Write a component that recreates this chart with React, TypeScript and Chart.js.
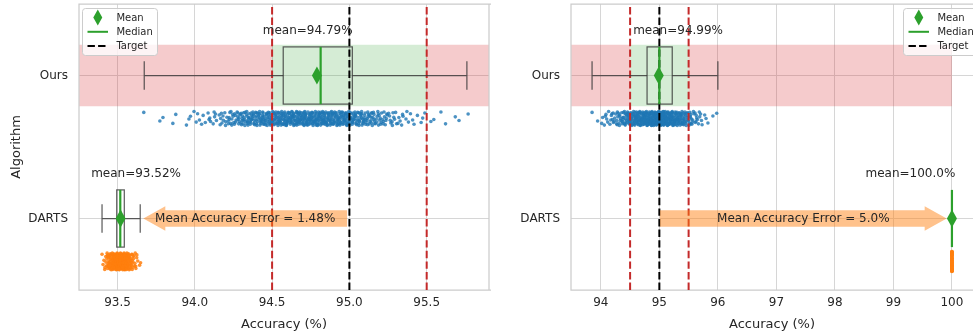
import { useEffect, useRef } from "react";
import { Chart, registerables } from "chart.js";

Chart.register(...registerables);

// ---------------- data ----------------
const categories = ["Ours", "DARTS"];
const targetAccuracy = 95.0;
const toleranceBand = [94.5, 95.5];

// left panel
const leftXTicks = [93.5, 94.0, 94.5, 95.0, 95.5];
const leftXTickLabels = ["93.5", "94.0", "94.5", "95.0", "95.5"];
const leftXRange = [93.251, 95.903];
const leftRedBandX = [93.251, 95.903];
// [whiskerLow, q1, median, q3, whiskerHigh]
const leftOursBox = [93.673, 94.572, 94.814, 95.019, 95.76];
const leftDartsBox = [93.4, 93.495, 93.518, 93.544, 93.647];
const leftMeans = [94.79, 93.52];
const leftMeanLabelX = [94.73, 93.62];
const leftArrow = [94.985, 93.667]; // from (target side) -> to (DARTS side)

const leftOursValues = [
  93.67, 93.78, 93.79, 93.86, 93.87, 93.95, 93.97, 93.99, 94.01, 94.03, 94.05, 94.07, 94.09,
  94.10, 94.12, 94.14, 94.16, 94.18, 94.20, 94.22, 94.24, 94.26, 94.28,
  94.30, 94.32, 94.34, 94.36, 94.38, 94.40, 94.42, 94.44, 94.46, 94.48,
  94.50, 94.52, 94.54, 94.56, 94.58, 94.60, 94.62, 94.64, 94.66, 94.68,
  94.70, 94.72, 94.74, 94.76, 94.78, 94.80, 94.82, 94.84, 94.86, 94.88,
  94.90, 94.92, 94.94, 94.96, 94.98, 95.00, 95.02, 95.04, 95.06, 95.08,
  95.10, 95.12, 95.14, 95.16, 95.18, 95.20, 95.22, 95.24, 95.26, 95.28,
  95.30, 95.32, 95.34, 95.37, 95.39, 95.41, 95.44, 95.47, 95.49, 95.52,
  95.55, 95.59, 95.63, 95.68, 95.71, 95.76,
];
const leftOursCounts = [
  1, 1, 1, 1, 1, 1, 2, 1, 2, 1, 2, 1, 2,
  2, 3, 2, 3, 4, 4, 5, 6, 6, 7,
  8, 8, 9, 9, 9, 10, 10, 11, 10, 11,
  12, 12, 12, 12, 13, 13, 14, 13, 14, 14,
  14, 14, 13, 14, 14, 14, 13, 14, 13, 13,
  12, 12, 12, 12, 12, 11, 10, 10, 10, 9,
  8, 8, 8, 7, 6, 6, 5, 5, 4, 4,
  3, 3, 3, 2, 2, 2, 1, 2, 1, 1,
  1, 1, 1, 1, 1, 1,
];
const leftDartsValues = [
  93.40, 93.41, 93.42, 93.43, 93.44, 93.45, 93.46, 93.47, 93.48, 93.49,
  93.50, 93.51, 93.52, 93.53, 93.54, 93.55, 93.56, 93.57, 93.58, 93.59,
  93.60, 93.61, 93.62, 93.63, 93.64, 93.65,
];
const leftDartsCounts = [
  1, 2, 3, 5, 7, 9, 11, 13, 15, 16,
  17, 18, 18, 18, 17, 15, 13, 11, 9, 7,
  5, 4, 3, 2, 1, 1,
];

// right panel
const rightXTicks = [94, 95, 96, 97, 98, 99, 100];
const rightXTickLabels = ["94", "95", "96", "97", "98", "99", "100"];
const rightXRange = [93.49, 100.36];
const rightRedBandX = [93.49, 100.0];
const rightOursBox = [93.85, 94.79, 95.0, 95.22, 96.0];
const rightDartsBox = [100.0, 100.0, 100.0, 100.0, 100.0];
const rightMeans = [94.99, 100.0];
const rightMeanLabelX = [95.32, 99.29];
const rightArrow = [95.01, 99.91];

const rightOursValues = [
  93.85, 93.96, 94.02, 94.07, 94.12, 94.17, 94.22, 94.27, 94.32, 94.37,
  94.42, 94.47, 94.52, 94.57, 94.62, 94.67, 94.72, 94.77, 94.82, 94.87,
  94.92, 94.97, 95.02, 95.07, 95.12, 95.17, 95.22, 95.27, 95.32, 95.37,
  95.42, 95.47, 95.52, 95.57, 95.62, 95.67, 95.72, 95.78, 95.84, 95.91, 96.0,
];
const rightOursCounts = [
  1, 1, 2, 3, 3, 4, 5, 6, 7, 8,
  10, 11, 13, 14, 15, 17, 18, 19, 20, 21,
  22, 22, 22, 21, 20, 19, 18, 16, 15, 13,
  11, 9, 8, 6, 5, 4, 3, 2, 1, 1, 1,
];
const rightDartsValues = [100.0];
const rightDartsCounts = [50];

// strip-plot jitter (categorical axis offsets)
const stripJitter = [
  -0.042, 0.018, -0.006, 0.035, -0.028, 0.047, -0.015, 0.004, -0.048, 0.026,
  -0.033, 0.011, 0.041, -0.021, 0.029, -0.002, -0.038, 0.022, 0.008, -0.045,
  0.038, -0.011, 0.015, -0.031, 0.044, -0.024, 0.001, 0.032, -0.017, -0.036,
  0.013, 0.049, -0.008, 0.024, -0.04, 0.006, 0.037,
];
// small sub-grid spread along the value axis for the binned strip values
const stripSpread = [0.0, -0.006, 0.004, -0.002, 0.007, -0.004, 0.002, -0.008, 0.005, -0.001, 0.008];

// ---------------- styling ----------------
const FONT = "'DejaVu Sans', sans-serif";
const TEXT = "#262626";
const GRID = "#d6d6d6";
const SPINE = "#cccccc";
const GREEN = "#2ca02c";
const RED_LINE = "#c42a2a";
const BOX_LINE = "rgba(55,55,55,0.8)";
const STRIP_OFFSET = 0.3;
const BOX_HALF = 0.2;
const CAP_HALF = 0.1;
const BAND_HALF = 0.215;
const CANVAS_H = 335;

type Strip = { values: number[]; counts: number[]; color: string; spread: number; jitterScale: number };

type PanelCfg = {
  width: number;
  left: number;
  yAxisWidth: number;
  padRight: number;
  showYTitle: boolean;
  rightSpine: boolean;
  xRange: number[];
  xTicks: number[];
  xTickLabels: string[];
  redBand: number[];
  boxes: number[][];
  means: number[];
  meanLabelX: number[];
  arrow: number[];
  strips: Strip[];
  legendX: number;
};

function pyNum(v: number) {
  const r = Math.round(v * 100) / 100;
  return Number.isInteger(r) ? r.toFixed(1) : String(r);
}

function stripPoints(s: Strip, cat: number) {
  const pts: { x: number; y: number }[] = [];
  let k = 0;
  s.values.forEach((v, i) => {
    for (let c = 0; c < s.counts[i]; c++) {
      pts.push({
        x: v + s.spread * stripSpread[k % stripSpread.length],
        y: cat + STRIP_OFFSET + s.jitterScale * stripJitter[k % stripJitter.length],
      });
      k++;
    }
  });
  return pts;
}

function diamond(ctx: CanvasRenderingContext2D, cx: number, cy: number, w: number, h: number) {
  ctx.beginPath();
  ctx.moveTo(cx, cy - h / 2);
  ctx.lineTo(cx + w / 2, cy);
  ctx.lineTo(cx, cy + h / 2);
  ctx.lineTo(cx - w / 2, cy);
  ctx.closePath();
  ctx.fillStyle = GREEN;
  ctx.fill();
}

function drawLegend(ctx: CanvasRenderingContext2D, x0: number, y0: number) {
  ctx.save();
  ctx.beginPath();
  (ctx as any).roundRect(x0 + 0.5, y0 + 0.5, 75, 47, 3);
  ctx.fillStyle = "rgba(255,255,255,0.8)";
  ctx.fill();
  ctx.strokeStyle = SPINE;
  ctx.lineWidth = 1;
  ctx.stroke();
  const hx0 = x0 + 5.5;
  const hx1 = x0 + 26;
  const rows = [y0 + 9.5, y0 + 23.8, y0 + 38];
  diamond(ctx, (hx0 + hx1) / 2, rows[0], 9, 16);
  ctx.strokeStyle = GREEN;
  ctx.lineWidth = 2;
  ctx.beginPath();
  ctx.moveTo(hx0, rows[1]);
  ctx.lineTo(hx1, rows[1]);
  ctx.stroke();
  ctx.strokeStyle = "#000";
  ctx.setLineDash([7.4, 3.2]);
  ctx.beginPath();
  ctx.moveTo(hx0, rows[2]);
  ctx.lineTo(hx1, rows[2]);
  ctx.stroke();
  ctx.setLineDash([]);
  ctx.fillStyle = TEXT;
  ctx.font = `10px ${FONT}`;
  ctx.textAlign = "left";
  ctx.textBaseline = "middle";
  ["Mean", "Median", "Target"].forEach((t, i) => ctx.fillText(t, x0 + 34.4, rows[i] + 0.5));
  ctx.restore();
}

function overlayPlugin(cfg: PanelCfg) {
  return {
    id: "overlay",
    beforeDatasetsDraw(chart: any) {
      const { ctx, chartArea: a, scales } = chart;
      const x = scales.x;
      const y = scales.y;
      const R = Math.max(a.right, x.getPixelForValue(cfg.xRange[1]));
      ctx.save();
      // carry the category grid lines to the scale end
      ctx.strokeStyle = GRID;
      ctx.lineWidth = 1;
      categories.forEach((_c, i) => {
        const py = Math.round(y.getPixelForValue(i)) + 0.5;
        ctx.beginPath();
        ctx.moveTo(a.right, py);
        ctx.lineTo(R, py);
        ctx.stroke();
      });
      ctx.beginPath();
      ctx.rect(a.left, a.top, R - a.left, a.bottom - a.top);
      ctx.clip();
      const yt = y.getPixelForValue(-BAND_HALF);
      const yb = y.getPixelForValue(BAND_HALF);
      const xr0 = x.getPixelForValue(cfg.redBand[0]);
      const xr1 = x.getPixelForValue(cfg.redBand[1]);
      const xg0 = x.getPixelForValue(toleranceBand[0]);
      const xg1 = x.getPixelForValue(toleranceBand[1]);
      ctx.fillStyle = "rgba(214,39,40,0.24)";
      ctx.fillRect(xr0, yt, xg0 - xr0, yb - yt);
      ctx.fillRect(xg1, yt, xr1 - xg1, yb - yt);
      ctx.fillStyle = "rgba(44,160,44,0.2)";
      ctx.fillRect(xg0, yt, xg1 - xg0, yb - yt);
      ctx.restore();
    },
    afterDatasetsDraw(chart: any) {
      const { ctx, chartArea: a, scales } = chart;
      const x = scales.x;
      const y = scales.y;
      const R = Math.max(a.right, x.getPixelForValue(cfg.xRange[1]));
      ctx.save();
      // spines
      ctx.strokeStyle = SPINE;
      ctx.lineWidth = 1.25;
      ctx.beginPath();
      ctx.moveTo(R + 2, a.top);
      ctx.lineTo(a.left, a.top);
      ctx.lineTo(a.left, a.bottom);
      ctx.lineTo(R + 2, a.bottom);
      if (cfg.rightSpine) {
        ctx.moveTo(a.right, a.top);
        ctx.lineTo(a.right, a.bottom);
      }
      ctx.stroke();

      ctx.beginPath();
      ctx.rect(a.left, a.top, R - a.left, a.bottom - a.top);
      ctx.clip();

      // dashed reference lines
      ctx.lineWidth = 2;
      ctx.setLineDash([7.4, 3.2]);
      [toleranceBand[0], toleranceBand[1]].forEach((v) => {
        const px = x.getPixelForValue(v);
        ctx.strokeStyle = RED_LINE;
        ctx.beginPath();
        ctx.moveTo(px, a.bottom);
        ctx.lineTo(px, a.top);
        ctx.stroke();
      });
      {
        const px = x.getPixelForValue(targetAccuracy);
        ctx.strokeStyle = "#000";
        ctx.beginPath();
        ctx.moveTo(px, a.bottom);
        ctx.lineTo(px, a.top);
        ctx.stroke();
      }
      ctx.setLineDash([]);

      // boxes
      cfg.boxes.forEach((b, i) => {
        const [wl, q1, med, q3, wh] = b.map((v) => x.getPixelForValue(v));
        const yc = y.getPixelForValue(i);
        const yTop = y.getPixelForValue(i - BOX_HALF);
        const yBot = y.getPixelForValue(i + BOX_HALF);
        const cT = y.getPixelForValue(i - CAP_HALF);
        const cB = y.getPixelForValue(i + CAP_HALF);
        ctx.strokeStyle = BOX_LINE;
        ctx.lineWidth = 1.25;
        ctx.beginPath();
        ctx.moveTo(wl, yc);
        ctx.lineTo(q1, yc);
        ctx.moveTo(q3, yc);
        ctx.lineTo(wh, yc);
        ctx.moveTo(wl, cT);
        ctx.lineTo(wl, cB);
        ctx.moveTo(wh, cT);
        ctx.lineTo(wh, cB);
        ctx.stroke();
        ctx.strokeRect(q1, yTop, q3 - q1, yBot - yTop);
        ctx.strokeStyle = GREEN;
        ctx.lineWidth = 2.2;
        ctx.beginPath();
        ctx.moveTo(med, yTop);
        ctx.lineTo(med, yBot);
        ctx.stroke();
        diamond(ctx, x.getPixelForValue(cfg.means[i]), yc, 10, 18);
      });

      // arrow (target -> DARTS mean)
      {
        const x0 = x.getPixelForValue(cfg.arrow[0]);
        const x1 = x.getPixelForValue(cfg.arrow[1]);
        const yc = y.getPixelForValue(1);
        const dir = Math.sign(x1 - x0);
        const headLen = 22;
        const shaftH = 8.2;
        const headH = 12.3;
        const xb = x1 - dir * headLen;
        ctx.fillStyle = "rgba(255,127,14,0.48)";
        ctx.beginPath();
        ctx.moveTo(x0, yc - shaftH);
        ctx.lineTo(xb, yc - shaftH);
        ctx.lineTo(xb, yc - headH);
        ctx.lineTo(x1, yc);
        ctx.lineTo(xb, yc + headH);
        ctx.lineTo(xb, yc + shaftH);
        ctx.lineTo(x0, yc + shaftH);
        ctx.closePath();
        ctx.fill();
        ctx.fillStyle = TEXT;
        ctx.font = `12px ${FONT}`;
        ctx.textAlign = "center";
        ctx.textBaseline = "middle";
        const err = pyNum(Math.abs(targetAccuracy - cfg.means[1]));
        ctx.fillText(`Mean Accuracy Error = ${err}%`, (x0 + x1) / 2, yc + 0.5);
      }
      ctx.restore();

      // mean labels
      ctx.save();
      ctx.fillStyle = TEXT;
      ctx.font = `12px ${FONT}`;
      ctx.textAlign = "center";
      ctx.textBaseline = "middle";
      cfg.means.forEach((m, i) => {
        ctx.fillText(`mean=${pyNum(m)}%`, x.getPixelForValue(cfg.meanLabelX[i]), y.getPixelForValue(i - 0.31));
      });
      ctx.restore();

      drawLegend(ctx, cfg.legendX, 8);
    },
  };
}

function zeroPad(s: any) {
  s.paddingTop = 0;
  s.paddingBottom = 0;
  s.paddingLeft = 0;
  s.paddingRight = 0;
}

function buildConfig(cfg: PanelCfg): any {
  return {
    type: "scatter",
    data: {
      datasets: cfg.strips.map((s, i) => ({
        data: stripPoints(s, i),
        pointRadius: 1.8,
        pointBorderWidth: 0,
        pointBackgroundColor: s.color,
        showLine: false,
        clip: 20,
      })),
    },
    plugins: [overlayPlugin(cfg)],
    options: {
      animation: false,
      responsive: false,
      devicePixelRatio: 1,
      events: [],
      layout: { padding: { top: 4, right: cfg.padRight, bottom: 0, left: 0 } },
      plugins: { legend: { display: false }, tooltip: { enabled: false } },
      scales: {
        x: {
          type: "linear",
          min: cfg.xRange[0],
          max: cfg.xRange[1],
          afterBuildTicks: (s: any) => {
            s.ticks = cfg.xTicks.map((v) => ({ value: v }));
          },
          afterFit: (s: any) => {
            s.height = 45;
            zeroPad(s);
          },
          ticks: {
            callback: (_v: any, i: number) => cfg.xTickLabels[i],
            font: { family: FONT, size: 12 },
            color: TEXT,
            padding: 6,
            maxRotation: 0,
          },
          grid: { color: GRID, lineWidth: 1, drawTicks: false },
          border: { display: false },
          title: {
            display: true,
            text: "Accuracy (%)",
            font: { family: FONT, size: 13 },
            color: TEXT,
            padding: { top: 0, bottom: 3 },
          },
        },
        y: {
          type: "linear",
          min: -0.5,
          max: 1.5,
          reverse: true,
          afterBuildTicks: (s: any) => {
            s.ticks = categories.map((_c, i) => ({ value: i }));
          },
          afterFit: (s: any) => {
            s.width = cfg.yAxisWidth;
            zeroPad(s);
          },
          ticks: {
            callback: (_v: any, i: number) => categories[i],
            font: { family: FONT, size: 12 },
            color: TEXT,
            padding: 11,
          },
          grid: { color: GRID, lineWidth: 1, drawTicks: false },
          border: { display: false },
          title: {
            display: cfg.showYTitle,
            text: "Algorithm",
            font: { family: FONT, size: 13 },
            color: TEXT,
            padding: { top: 9, bottom: 0 },
          },
        },
      },
    },
  };
}

const leftPanel: PanelCfg = {
  width: 495,
  left: 0,
  yAxisWidth: 79,
  padRight: 6,
  showYTitle: true,
  rightSpine: true,
  xRange: leftXRange,
  xTicks: leftXTicks,
  xTickLabels: leftXTickLabels,
  redBand: leftRedBandX,
  boxes: [leftOursBox, leftDartsBox],
  means: leftMeans,
  meanLabelX: leftMeanLabelX,
  arrow: leftArrow,
  strips: [
    { values: leftOursValues, counts: leftOursCounts, color: "rgba(31,119,180,0.8)", spread: 1, jitterScale: 1 },
    { values: leftDartsValues, counts: leftDartsCounts, color: "rgba(255,127,14,0.85)", spread: 0.6, jitterScale: 1.2 },
  ],
  legendX: 82,
};

// the right panel's plot area runs past the right edge of the picture (cropped figure)
const rightPanel: PanelCfg = {
  width: 498,
  left: 495,
  yAxisWidth: 76,
  padRight: 20,
  showYTitle: false,
  rightSpine: false,
  xRange: rightXRange,
  xTicks: rightXTicks,
  xTickLabels: rightXTickLabels,
  redBand: rightRedBandX,
  boxes: [rightOursBox, rightDartsBox],
  means: rightMeans,
  meanLabelX: rightMeanLabelX,
  arrow: rightArrow,
  strips: [
    { values: rightOursValues, counts: rightOursCounts, color: "rgba(31,119,180,0.8)", spread: 2.5, jitterScale: 1 },
    { values: rightDartsValues, counts: rightDartsCounts, color: "rgba(255,127,14,0.85)", spread: 0, jitterScale: 1.45 },
  ],
  legendX: 408,
};

function Panel({ cfg }: { cfg: PanelCfg }) {
  const ref = useRef<HTMLCanvasElement>(null);
  useEffect(() => {
    const chart = new Chart(ref.current as HTMLCanvasElement, buildConfig(cfg));
    return () => chart.destroy();
  }, [cfg]);
  return (
    <canvas
      ref={ref}
      width={cfg.width}
      height={CANVAS_H}
      style={{ position: "absolute", left: cfg.left, top: 0, width: cfg.width, height: CANVAS_H }}
    />
  );
}

export default function App() {
  return (
    <div
      style={{
        position: "absolute",
        left: 0,
        top: 0,
        width: 973,
        height: CANVAS_H,
        overflow: "hidden",
        background: "#fff",
      }}
    >
      <Panel cfg={leftPanel} />
      <Panel cfg={rightPanel} />
    </div>
  );
}
